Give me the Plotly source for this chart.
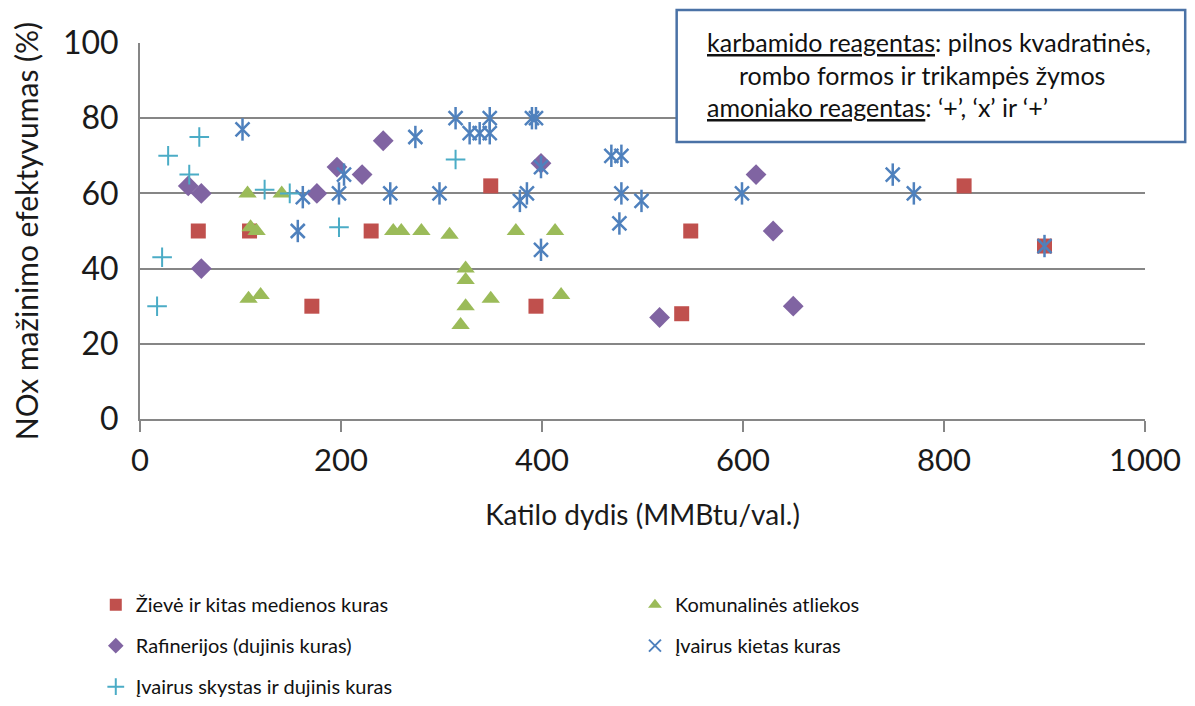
import plotly.graph_objects as go

# Katilo dydis (MMBtu/val.) ir NOx mažinimo efektyvumas (%)
zieve_x = [58, 109, 171, 230, 349, 394, 548, 539, 820, 900]
zieve_y = [50, 50, 30, 50, 62, 30, 50, 28, 62, 46]

komun_x = [107, 141, 110, 116, 252, 260, 280, 308, 374, 413, 108, 120, 324, 324, 324, 349, 419, 319]
komun_y = [60, 60, 51, 50, 50, 50, 50, 49, 50, 50, 32, 33, 40, 37, 30, 32, 33, 25]

rafin_x = [48, 61, 176, 196, 221, 242, 61, 399, 613, 630, 517, 650]
rafin_y = [62, 60, 60, 67, 65, 74, 40, 68, 65, 50, 27, 30]

kietas_x = [102, 274, 203, 198, 249, 162, 157, 314, 348, 390, 394, 328, 338, 348,
            399, 298, 385, 378, 399, 469, 479, 479, 499, 599, 477, 749, 770, 900]
kietas_y = [77, 75, 65, 60, 60, 59, 50, 80, 80, 80, 80, 76, 76, 76,
            67, 60, 60, 58, 45, 70, 70, 60, 58, 60, 52, 65, 60, 46]

skystas_x = [28, 59, 49, 124, 149, 198, 22, 17, 314]
skystas_y = [70, 75, 65, 61, 60, 51, 43, 30, 69]

FONT = "Lato, 'Open Sans', sans-serif"
GRID = "#868686"

fig = go.Figure()

fig.add_trace(go.Scatter(
    x=zieve_x, y=zieve_y, mode="markers", name="Žievė ir kitas medienos kuras",
    marker=dict(symbol="square", size=15, color="#C0504D"),
    legend="legend", legendgroup="a",
))
fig.add_trace(go.Scatter(
    x=komun_x, y=komun_y, mode="markers", name="Komunalinės atliekos",
    marker=dict(symbol="triangle-up", size=16, color="#9BBB59"),
    legend="legend2", legendgroup="b",
))
fig.add_trace(go.Scatter(
    x=rafin_x, y=rafin_y, mode="markers", name="Rafinerijos (dujinis kuras)",
    marker=dict(symbol="diamond", size=16, color="#8064A2"),
    legend="legend", legendgroup="c",
))
fig.add_trace(go.Scatter(
    x=kietas_x, y=kietas_y, mode="markers", name="Įvairus kietas kuras",
    marker=dict(symbol="x-thin-open", size=14, color="#4F81BD",
                line=dict(width=2.5, color="#4F81BD")),
    legend="legend2", legendgroup="d",
))
# vertikalus brūkšnys žvaigždutei
fig.add_trace(go.Scatter(
    x=kietas_x, y=kietas_y, mode="markers", showlegend=False, hoverinfo="skip",
    marker=dict(symbol="line-ns-open", size=16, color="#4F81BD",
                line=dict(width=2.5, color="#4F81BD")),
    legend="legend2", legendgroup="d",
))
fig.add_trace(go.Scatter(
    x=skystas_x, y=skystas_y, mode="markers", name="Įvairus skystas ir dujinis kuras",
    marker=dict(symbol="cross-thin-open", size=14, color="#4BACC6",
                line=dict(width=2, color="#4BACC6")),
    legend="legend", legendgroup="e",
))

# užrašų langelis
fig.add_shape(type="rect", xref="paper", yref="paper",
              x0=0.534, x1=1.040, y0=0.737, y1=1.088,
              line=dict(color="#4A72A6", width=2.5), fillcolor="white", layer="above")
fig.add_annotation(
    xref="paper", yref="paper", x=0.562, y=0.916, xanchor="left", yanchor="middle",
    align="left", showarrow=False,
    text="<u>karbamido reagentas</u>: pilnos kvadratinės,<br>"
         "\u00a0\u00a0\u00a0\u00a0\u00a0rombo formos ir trikampės žymos<br>"
         "<u>amoniako reagentas</u>: ‘+’, ‘x’ ir ‘+’",
    font=dict(family=FONT, size=25, color="#111"),
)

fig.update_layout(
    width=1195, height=706,
    margin=dict(l=132, r=58, t=35, b=295),
    paper_bgcolor="white", plot_bgcolor="white",
    font=dict(family=FONT, color="#1a1a1a"),
    xaxis=dict(
        range=[0, 1000], dtick=200, showgrid=False, zeroline=False, automargin=False,
        showline=True, linecolor=GRID, linewidth=2,
        ticks="outside", ticklen=11, tickwidth=2, tickcolor=GRID,
        ticklabelstandoff=2, tickfont=dict(size=31),
        title=dict(text="Katilo dydis (MMBtu/val.)", font=dict(size=28), standoff=28),
    ),
    yaxis=dict(
        range=[0, 100], dtick=20, showgrid=True, gridcolor=GRID, gridwidth=2,
        zeroline=False, showline=True, linecolor=GRID, linewidth=2, automargin=False,
        ticks="", ticklabelstandoff=13, tickfont=dict(size=32),
        title=dict(text="NOx mažinimo efektyvumas (%)", font=dict(size=30), standoff=21),
    ),
    legend=dict(xref="paper", yref="container", x=-0.044, xanchor="left",
                y=0.1825, yanchor="top", orientation="v", tracegroupgap=12,
                itemsizing="constant", bgcolor="rgba(0,0,0,0)",
                font=dict(family=FONT, size=20, color="#111")),
    legend2=dict(xref="paper", yref="container", x=0.4925, xanchor="left",
                 y=0.1825, yanchor="top", orientation="v", tracegroupgap=12,
                 itemsizing="constant", bgcolor="rgba(0,0,0,0)",
                 font=dict(family=FONT, size=20, color="#111")),
)

fig.write_html("out.html")
